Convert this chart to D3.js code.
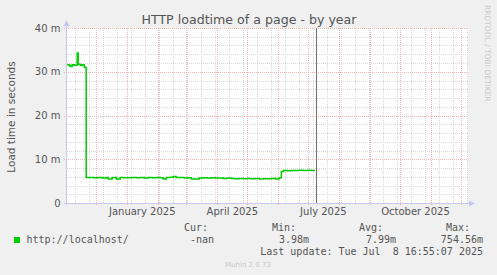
<!DOCTYPE html>
<html><head><meta charset="utf-8">
<script src="https://cdn.jsdelivr.net/npm/d3@7"></script>
<style>
html,body{margin:0;padding:0;background:#F0F0F0;}
svg{display:block;}
</style></head>
<body>
<script>
// ---- data ----
const dates = [
 "2024-11-02","2024-11-04","2024-11-05","2024-11-07","2024-11-09","2024-11-11","2024-11-12","2024-11-13",
 "2024-11-15","2024-11-17","2024-11-19","2024-11-20",
 "2024-11-21","2024-11-25","2024-11-29","2024-12-03","2024-12-07","2024-12-11","2024-12-13","2024-12-17",
 "2024-12-21","2024-12-25","2024-12-29","2025-01-02","2025-01-06","2025-01-10","2025-01-14","2025-01-18",
 "2025-01-22","2025-01-26","2025-01-30","2025-02-03","2025-02-06","2025-02-09","2025-02-13","2025-02-16",
 "2025-02-19","2025-02-23","2025-02-27","2025-03-03","2025-03-06","2025-03-10","2025-03-14","2025-03-18",
 "2025-03-22","2025-03-26","2025-03-30","2025-04-03","2025-04-07","2025-04-11","2025-04-15","2025-04-19",
 "2025-04-23","2025-04-27","2025-05-01","2025-05-05","2025-05-09","2025-05-13","2025-05-17","2025-05-21",
 "2025-05-25","2025-05-29","2025-06-01","2025-06-02","2025-06-04","2025-06-06","2025-06-10","2025-06-14",
 "2025-06-18","2025-06-22","2025-06-26","2025-06-30","2025-07-04","2025-07-07"
];
// load time in seconds
const loadTime = [
 0.0316,0.0315,0.0312,0.0316,0.0315,0.0315,0.0343,0.0317,
 0.0315,0.0316,0.0311,0.0310,
 0.00583,0.00583,0.00575,0.00583,0.00570,0.00583,0.00547,0.00583,
 0.00550,0.00583,0.00580,0.00575,0.00583,0.00580,0.00583,0.00570,
 0.00583,0.00580,0.00583,0.00575,0.00550,0.00583,0.00590,0.00606,
 0.00583,0.00583,0.00570,0.00575,0.00550,0.00550,0.00570,0.00575,
 0.00570,0.00580,0.00570,0.00570,0.00560,0.00570,0.00560,0.00555,
 0.00560,0.00555,0.00560,0.00555,0.00560,0.00550,0.00555,0.00555,
 0.00560,0.00550,0.00555,0.00580,0.00720,0.00745,0.00740,0.00742,
 0.00745,0.00750,0.00745,0.00750,0.00745,0.00740
];
const yTicks = [0, 0.01, 0.02, 0.03, 0.04];
const xLabelDates = ["2025-01-16","2025-04-16","2025-07-16","2025-10-16"];
const xLabels = ["January 2025","April 2025","July 2025","October 2025"];
const domainStart = "2024-11-02T07:40:00";
const domainEnd = "2025-12-06T23:00:00";
const nowTime = "2025-07-08T16:55:07";
const minorStart = "2024-11-10";
const legendHeads = ["Cur:","Min:","Avg:","Max:"];
const legendVals = ["-nan","3.98m","7.99m","754.56m"];
const seriesName = "http://localhost/";
const lastUpdate = "Last update: Tue Jul  8 16:55:07 2025";

// ---- layout ----
const W = 497, H = 275;
const L = 67, R = 467, T = 28.5, B = 203.5;
const SANS = "DejaVu Sans", MONO = "DejaVu Sans Mono";
const svg = d3.select("body").append("svg").attr("width", W).attr("height", H);
svg.append("rect").attr("width", W).attr("height", H).attr("fill", "#F0F0F0");
svg.append("rect").attr("x", L).attr("y", 28).attr("width", 401).attr("height", 175).attr("fill", "#fff");

const x = d3.scaleTime().domain([new Date(domainStart), new Date(domainEnd)]).range([L, R]);
const y = d3.scaleLinear().domain([0, 0.04]).range([B, T]);
const px = v => Math.round(v) + 0.5;
const minorCol = "#d8d8d8", majorCol = "#f0b4b4";

const grid = svg.append("g");
// minor y grid every 2 m
d3.range(0, 0.0401, 0.002).forEach(v => {
  const major = yTicks.some(t => Math.abs(t - v) < 1e-9);
  if (major) return;
  grid.append("line").attr("x1", L).attr("x2", 468).attr("y1", px(y(v) - 0.5)).attr("y2", px(y(v) - 0.5))
    .attr("stroke", minorCol).attr("stroke-dasharray", "1,1");
});
// minor x grid every 14 days
const minors = d3.range(0, 40).map(i => d3.timeDay.offset(new Date(minorStart + "T00:00:00"), i * 14));
minors.filter(d => x(d) > L && x(d) < 468).forEach(d => {
  grid.append("line").attr("x1", px(x(d))).attr("x2", px(x(d))).attr("y1", 28).attr("y2", 203)
    .attr("stroke", minorCol).attr("stroke-dasharray", "1,1");
});
// major x grid: month starts
d3.timeMonth.range(x.domain()[0], x.domain()[1]).filter(d => x(d) > L + 1).forEach(d => {
  grid.append("line").attr("x1", px(x(d))).attr("x2", px(x(d))).attr("y1", 28).attr("y2", 206)
    .attr("stroke", majorCol).attr("stroke-dasharray", "1,1");
});
// major y grid
yTicks.forEach(v => {
  if (v === 0) return;
  grid.append("line").attr("x1", 64).attr("x2", 468).attr("y1", px(y(v) - 0.5)).attr("y2", px(y(v) - 0.5))
    .attr("stroke", majorCol).attr("stroke-dasharray", "1,1");
});

// axes lines + arrows
const axisCol = "#c8c8ee";
svg.append("line").attr("x1", 66.5).attr("x2", 66.5).attr("y1", 24).attr("y2", 205).attr("stroke", axisCol);
svg.append("line").attr("x1", 64).attr("x2", 470).attr("y1", 203.5).attr("y2", 203.5).attr("stroke", axisCol);
svg.append("path").attr("d", "M63.5,26 L69.5,26 L66.5,20 Z").attr("fill", axisCol);
svg.append("path").attr("d", "M469,200.5 L469,206.5 L475,203.5 Z").attr("fill", axisCol);

// y axis ticks
const yAxis = d3.axisLeft(y).tickValues(yTicks).tickSize(0).tickPadding(6)
  .tickFormat(d => d === 0 ? "0" : Math.round(d * 1000) + " m");
const gy = svg.append("g").attr("transform", "translate(66.5,-0.5)").call(yAxis);
gy.select(".domain").remove();
gy.selectAll("text").style("font-family", SANS).style("font-size", "10px").attr("fill", "#555");

// x axis labels
const xAxis = d3.axisBottom(x).tickValues(xLabelDates.map(s => new Date(s + "T00:00:00"))).tickSize(0).tickPadding(5)
  .tickFormat((d, i) => xLabels[i]);
const gx = svg.append("g").attr("transform", "translate(0,203)").call(xAxis);
gx.select(".domain").remove();
gx.selectAll("text").style("font-family", SANS).style("font-size", "10px").attr("fill", "#555");

// data line
const pts = dates.map((d, i) => ({ t: new Date(d + "T12:00:00"), v: loadTime[i] }));
svg.append("path").datum(pts)
  .attr("d", d3.line().x(d => x(d.t)).y(d => y(d.v) - 0.5).curve(d3.curveStepAfter))
  .attr("fill", "none").attr("stroke", "#00CC00").attr("stroke-width", 1.5);

// now line
svg.append("line").attr("x1", px(x(new Date(nowTime)))).attr("x2", px(x(new Date(nowTime))))
  .attr("y1", 28).attr("y2", 203).attr("stroke", "#707070").attr("stroke-width", 1);

// title
svg.append("text").attr("x", 249).attr("y", 24).attr("text-anchor", "middle")
  .style("font-family", SANS).style("font-size", "12.6px").attr("fill", "#555").text("HTTP loadtime of a page - by year");
// y label
svg.append("text").attr("transform", "translate(15,117) rotate(-90)").attr("text-anchor", "middle")
  .style("font-family", SANS).style("font-size", "10.5px").attr("fill", "#555").text("Load time in seconds");
// watermark
svg.append("text").attr("transform", "translate(485,5) rotate(90)").attr("text-anchor", "start")
  .style("font-family", SANS).style("font-size", "7.5px").attr("fill", "#c8c8c8").text("RRDTOOL / TOBI OETIKER");

// legend
const headX = [208, 296, 383, 470];
const valX = [214, 309, 396, 483];
const mono = sel => sel.style("font-family", MONO).style("font-size", "10px").attr("fill", "#555");
legendHeads.forEach((h, i) => {
  mono(svg.append("text").attr("x", headX[i]).attr("y", 231).attr("text-anchor", "end")).text(h);
});
svg.append("rect").attr("x", 14).attr("y", 237).attr("width", 6).attr("height", 6).attr("fill", "#00CC00");
mono(svg.append("text").attr("x", 26.5).attr("y", 243)).text(seriesName);
legendVals.forEach((v, i) => {
  mono(svg.append("text").attr("x", valX[i]).attr("y", 243).attr("text-anchor", "end")).text(v);
});
mono(svg.append("text").attr("x", 483).attr("y", 255).attr("text-anchor", "end").style("white-space", "pre")).text(lastUpdate);
svg.append("text").attr("x", 248).attr("y", 267).attr("text-anchor", "middle")
  .style("font-family", SANS).style("font-size", "7px").attr("fill", "#c8c8c8").text("Munin 2.0.73");
</script>
</body></html>
